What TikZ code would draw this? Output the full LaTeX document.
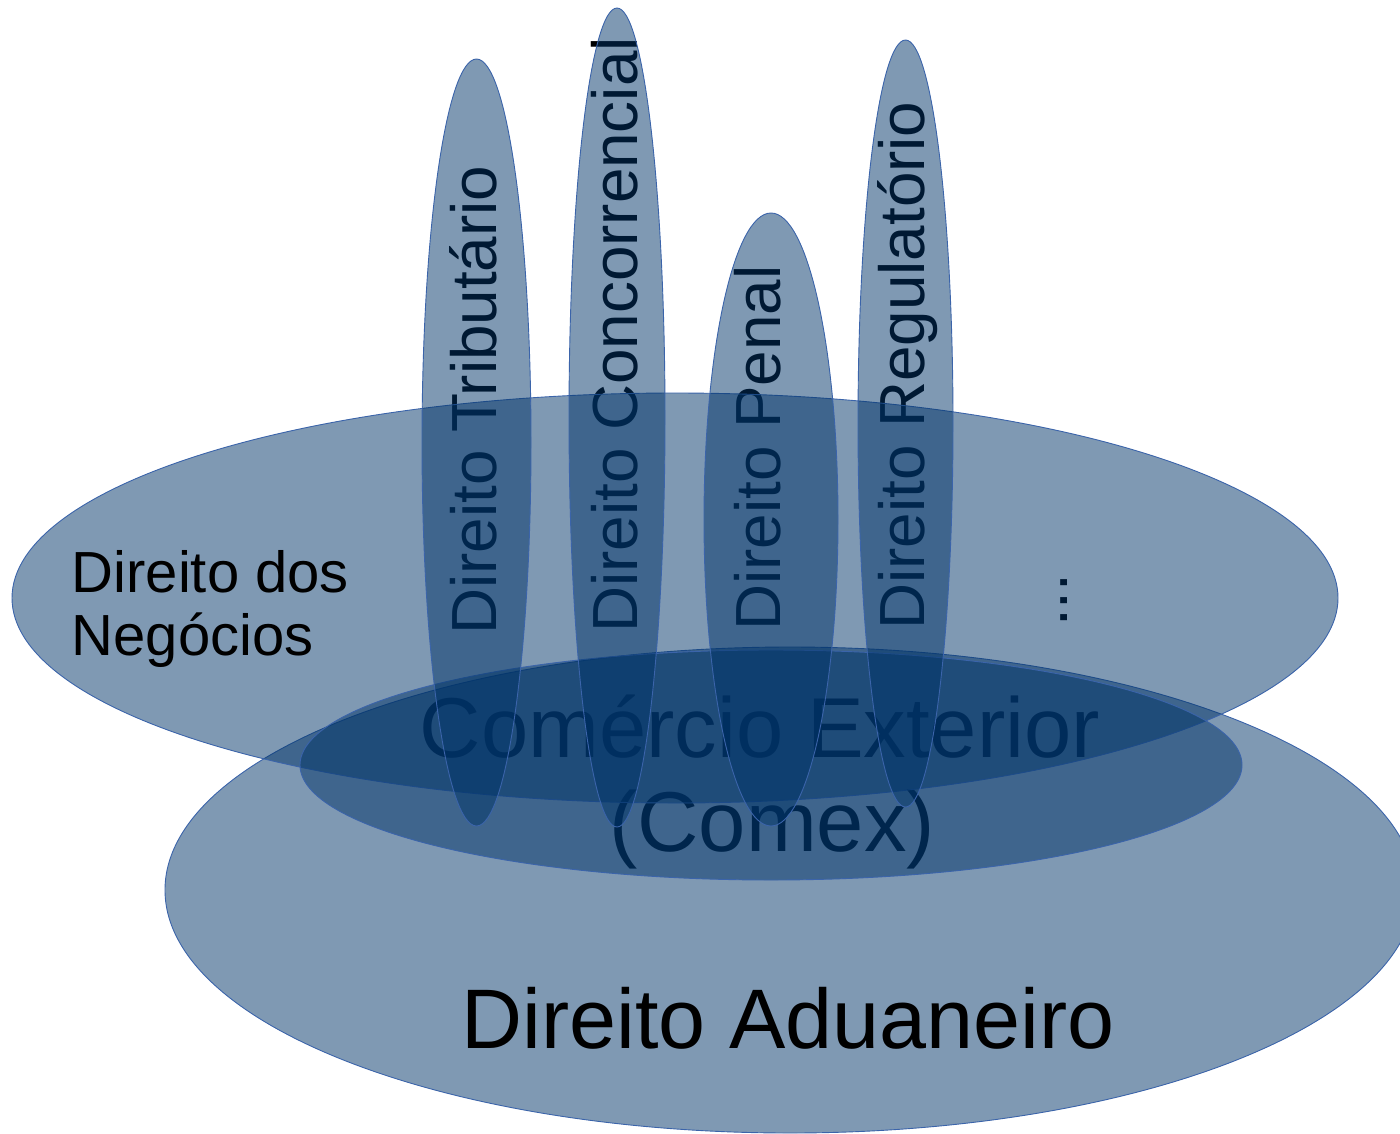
\documentclass[tikz,border=0pt]{standalone}
\usepackage{fontspec}
\setmainfont{Liberation Sans}
\definecolor{efill}{RGB}{0,51,103}
\definecolor{eline}{RGB}{59,100,170}
\begin{document}
\begin{tikzpicture}[x=1pt,y=-1pt,
  blob/.style={fill=efill, fill opacity=0.5, draw=eline, line width=0.9pt},
  vtext/.style={rotate=90, anchor=base west, inner sep=0pt, font=\fontsize{63.8}{70}\selectfont, text=black},
  htext/.style={inner sep=0pt, text=black}]
\useasboundingbox (0,0) rectangle (1400,1133);
\clip (0,0) rectangle (1400,1133);
% texts lying under the translucent ellipses
\node[vtext] (trib) at (496,635) {Direito Tributário};
\node[vtext] (conc) at (637,633) {Direito Concorrencial};
\node[vtext] (pen) at (780,631) {Direito Penal};
\node[vtext] (reg) at (924,630) {Direito Regulatório};
\node[vtext] (dots) at (1067,627) {...};
\node[htext, anchor=base, font=\fontsize{85}{94}\selectfont] (comex1) at (760,757) {Comércio Exterior};
\node[htext, anchor=base, font=\fontsize{85}{94}\selectfont] (comex2) at (772,851) {(Comex)};
% ellipses
\draw[blob] (790,890) ellipse [x radius=625, y radius=243];
\draw[blob] (675,598) ellipse [x radius=663, y radius=205];
\draw[blob] (771,765) ellipse [x radius=471, y radius=115];
\draw[blob] (476.5,442.5) ellipse [x radius=54.5, y radius=383.5];
\draw[blob] (617,417.5) ellipse [x radius=48, y radius=409.5];
\draw[blob] (771,519.5) ellipse [x radius=67, y radius=306.5];
\draw[blob] (905.5,423.5) ellipse [x radius=47.5, y radius=383.5];
% texts on top
\node[htext, anchor=base west, font=\fontsize{58}{63}\selectfont] (neg1) at (71.5,592) {Direito dos};
\node[htext, anchor=base west, font=\fontsize{58}{63}\selectfont] (neg2) at (71.5,655) {Negócios};
\node[htext, anchor=base, font=\fontsize{84.5}{94}\selectfont] (adu) at (788,1048) {Direito Aduaneiro};
\end{tikzpicture}
\end{document}
